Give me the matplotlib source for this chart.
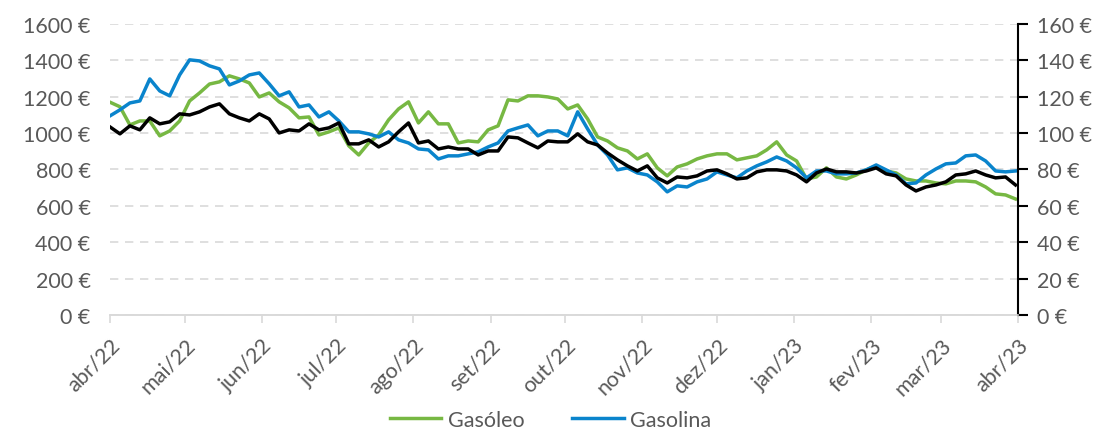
import matplotlib
matplotlib.use("Agg")
import matplotlib.pyplot as plt
from matplotlib.ticker import FuncFormatter
import matplotlib.transforms as mtransforms
import pandas as pd

# amostras de 4 em 4 dias, abr/22 -> abr/23
datas = pd.date_range("2022-04-01", periods=92, freq="4D")

gasoleo = [1170, 1145, 1045, 1067, 1067, 985, 1012, 1067, 1177, 1221,
           1270, 1282, 1315, 1298, 1276, 1199, 1221, 1172, 1139, 1084,
           1089, 990, 1007, 1029, 930, 880, 946, 990, 1073, 1133,
           1172, 1056, 1117, 1051, 1051, 946, 957, 952, 1018, 1040,
           1183, 1177, 1205, 1205, 1199, 1188, 1133, 1155, 1078, 979,
           957, 919, 902, 858, 886, 809, 765, 814, 831, 858,
           875, 886, 886, 853, 864, 875, 908, 952, 880, 847,
           748, 759, 809, 759, 748, 770, 798, 820, 792, 781,
           748, 737, 737, 726, 721, 737, 737, 732, 704, 666,
           660, 638]

gasolina = [1095, 1128, 1166, 1177, 1298, 1232, 1205, 1320, 1403, 1397,
            1370, 1353, 1265, 1287, 1320, 1331, 1271, 1205, 1227, 1144,
            1155, 1089, 1117, 1067, 1007, 1007, 996, 979, 1007, 963,
            946, 913, 908, 858, 875, 875, 886, 897, 924, 946,
            1012, 1029, 1045, 985, 1012, 1012, 985, 1117, 1023, 935,
            880, 798, 809, 781, 770, 732, 677, 710, 704, 732,
            748, 787, 770, 754, 792, 820, 842, 869, 847, 809,
            754, 792, 792, 776, 776, 781, 798, 825, 798, 770,
            721, 726, 770, 803, 831, 836, 875, 880, 847, 792,
            787, 792]

# eixo da direita
brent = [103.4, 99.6, 104.0, 101.8, 108.4, 105.1, 106.2, 110.6, 110.0, 111.7,
         114.4, 116.1, 110.6, 108.4, 106.7, 110.6, 107.8, 100.1, 101.8, 101.2,
         105.1, 101.8, 102.9, 105.6, 94.1, 94.1, 96.3, 92.4, 95.2, 100.7,
         105.6, 94.6, 95.7, 91.3, 92.4, 91.3, 91.3, 88.0, 90.2, 90.2,
         97.9, 97.4, 94.6, 91.9, 95.7, 95.2, 95.2, 99.6, 95.2, 93.5,
         89.1, 85.3, 82.0, 79.2, 82.0, 75.4, 72.6, 75.9, 75.4, 76.5,
         79.2, 79.8, 77.6, 74.8, 75.4, 78.7, 79.8, 79.8, 79.2, 77.0,
         73.2, 78.1, 80.3, 78.7, 78.7, 78.1, 79.2, 80.9, 77.6, 76.5,
         71.5, 68.2, 70.4, 71.5, 73.2, 77.0, 77.6, 79.2, 77.0, 75.4,
         75.9, 71.5]

meses = ["abr/22", "mai/22", "jun/22", "jul/22", "ago/22", "set/22", "out/22",
         "nov/22", "dez/22", "jan/23", "fev/23", "mar/23", "abr/23"]

VERDE = "#77b843"
AZUL = "#0a84cc"
CINZA = "#595959"
FS = 15.5

plt.rcParams["font.family"] = ["Lato", "DejaVu Sans"]

fig = plt.figure(figsize=(11.01, 4.35), dpi=100)
ax = fig.add_axes([0.0999, 0.2736, 0.8247, 0.6689])
ax2 = ax.twinx()

ax.plot(datas, gasoleo, color=VERDE, lw=2.5, label="Gasóleo")
ax.plot(datas, gasolina, color=AZUL, lw=2.5, label="Gasolina")
ax2.plot(datas, brent, color="black", lw=2.5)

ax.set_ylim(0, 1600)
ax2.set_ylim(0, 160)
ax.set_yticks(range(0, 1601, 200))
ax2.set_yticks(range(0, 161, 20))
ax.yaxis.set_major_formatter(FuncFormatter(lambda v, p: f"{v:.0f} €"))
ax2.yaxis.set_major_formatter(FuncFormatter(lambda v, p: f"{v:.0f} €"))

ticks = pd.date_range("2022-04-01", "2023-04-01", freq="MS")
ax.set_xlim(ticks[0], ticks[-1])
ax.set_xticks(ticks)
ax.set_xticklabels(meses, rotation=45, ha="right", rotation_mode="anchor")
desloc = mtransforms.ScaledTranslation(6 / 72, 0, fig.dpi_scale_trans)
for lbl in ax.get_xticklabels():
    lbl.set_transform(lbl.get_transform() + desloc)

ax.grid(axis="y", color="#d9d9d9", lw=1.2, ls=(0, (5, 4)))
ax.set_axisbelow(True)

for a in (ax, ax2):
    a.spines["top"].set_visible(False)
    a.spines["left"].set_visible(False)
    a.spines["right"].set_visible(False)
    a.spines["bottom"].set_color("#d9d9d9")
    a.spines["bottom"].set_linewidth(1.2)
ax2.spines["right"].set_visible(True)
ax2.spines["right"].set_color("black")
ax2.spines["right"].set_linewidth(1.5)

ax.tick_params(axis="y", length=0, labelsize=FS, labelcolor=CINZA, pad=14)
ax.tick_params(axis="x", length=6, color="#d9d9d9", width=1.2,
               labelsize=FS, labelcolor=CINZA, pad=8)
ax2.tick_params(axis="y", length=7, width=1.5, color="black",
                labelsize=FS, labelcolor=CINZA, pad=7)

fig.legend(loc="lower center", bbox_to_anchor=(0.5, -0.035), ncol=2, frameon=False,
           fontsize=FS, labelcolor=CINZA, handlelength=2.4, columnspacing=2.2,
           handletextpad=0.3)

fig.savefig("out.png", dpi=100)
